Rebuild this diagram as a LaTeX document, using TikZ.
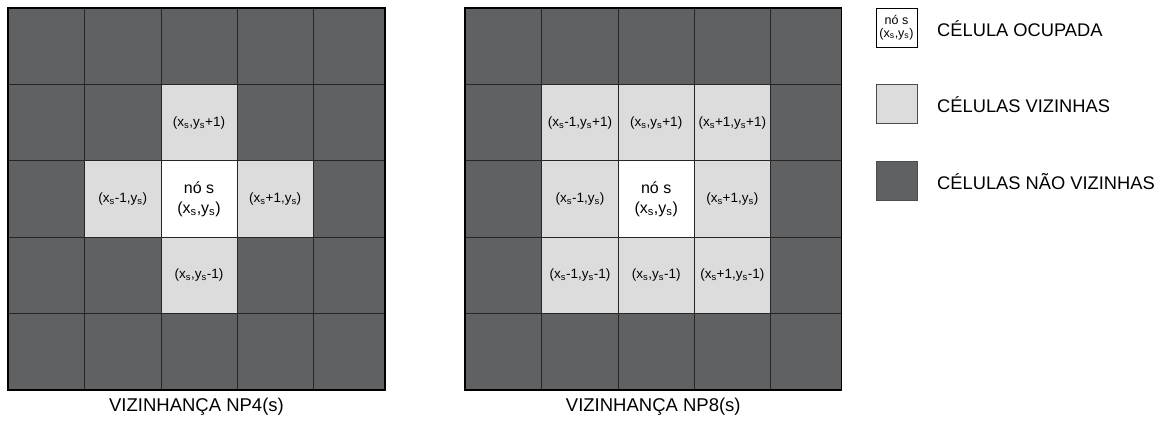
\documentclass[tikz,border=0pt]{standalone}
\usepackage{fontspec}
\setmainfont{Liberation Sans}
\definecolor{darkcell}{HTML}{606163}
\definecolor{lightcell}{HTML}{DCDCDC}
\newcommand{\sbs}{\textsubscript{s}}
\tikzset{
  darkfill/.style={fill=darkcell},
  lightfill/.style={fill=lightcell},
  whitefill/.style={fill=white},
  gridline/.style={draw=black!85, line width=0.9pt},
  border/.style={draw=black, line width=1.1pt},
  cellnb/.style={font=\fontsize{13.5}{15}\selectfont, inner sep=0pt},
  cellc/.style={font=\fontsize{16}{20}\selectfont, align=center, inner sep=0pt},
  legtext/.style={font=\fontsize{18.3}{20}\selectfont, anchor=west, inner sep=0pt},
  captext/.style={font=\fontsize{18.5}{20}\selectfont, inner sep=0pt},
  legbox/.style={draw=black!70, line width=0.8pt, minimum width=41pt, minimum height=39pt, inner sep=0pt}
}
\begin{document}
\begin{tikzpicture}[x=1pt,y=-1pt]
\useasboundingbox (0,0) rectangle (1165,423);
% ---------- Grid 1 (NP4) ----------
\fill[darkcell] (8,8) rectangle (385,390);
\fill[lightcell] (161,84.7) rectangle (237,160.7);
\fill[lightcell] (84.3,160.7) rectangle (161,237.3);
\fill[lightcell] (237,160.7) rectangle (313.3,237.3);
\fill[lightcell] (161,237.3) rectangle (237,313.3);
\fill[white] (161,160.7) rectangle (237,237.3);
\foreach \xx in {84.3,161,237,313.3} \draw[gridline] (\xx,8) -- (\xx,390);
\foreach \yy in {84.7,160.7,237.3,313.3} \draw[gridline] (8,\yy) -- (385,\yy);
\draw[border] (8,8) rectangle (385,390);
\node[cellnb] (a-n) at (199,122.7) {(x\sbs,y\sbs+1)};
\node[cellnb] (a-w) at (122.7,199) {(x\sbs-1,y\sbs)};
\node[cellnb] (a-e) at (275.2,199) {(x\sbs+1,y\sbs)};
\node[cellnb] (a-s) at (199,275.3) {(x\sbs,y\sbs-1)};
\node[cellc] (a-c) at (199,199) {nó s\\(x\sbs,y\sbs)};
\node[captext] (cap1) at (196.5,407) {VIZINHANÇA NP4(s)};
% ---------- Grid 2 (NP8) ----------
\fill[darkcell] (465,8) rectangle (841.7,390);
\fill[lightcell] (541.7,84.7) rectangle (770.7,313.3);
\fill[white] (618.3,160.7) rectangle (694,237.3);
\foreach \xx in {541.7,618.3,694,770.7} \draw[gridline] (\xx,8) -- (\xx,390);
\foreach \yy in {84.7,160.7,237.3,313.3} \draw[gridline] (465,\yy) -- (841.7,\yy);
\draw[border] (465,8) rectangle (841.7,390);
\node[cellnb] (b-nw) at (580,122.7) {(x\sbs-1,y\sbs+1)};
\node[cellnb] (b-n) at (656.2,122.7) {(x\sbs,y\sbs+1)};
\node[cellnb] (b-ne) at (732.3,122.7) {(x\sbs+1,y\sbs+1)};
\node[cellnb] (b-w) at (580,199) {(x\sbs-1,y\sbs)};
\node[cellnb] (b-e) at (732.3,199) {(x\sbs+1,y\sbs)};
\node[cellnb] (b-sw) at (580,275.3) {(x\sbs-1,y\sbs-1)};
\node[cellnb] (b-s) at (656.2,275.3) {(x\sbs,y\sbs-1)};
\node[cellnb] (b-se) at (732.3,275.3) {(x\sbs+1,y\sbs-1)};
\node[cellc] (b-c) at (656.2,199) {nó s\\(x\sbs,y\sbs)};
\node[captext] (cap2) at (653.3,407) {VIZINHANÇA NP8(s)};
% ---------- Legend ----------
\node[legbox, fill=white, draw=black, font=\fontsize{12.5}{12.5}\selectfont, align=center] (l1) at (896.5,27.5) {nó s\\(x\sbs,y\sbs)};
\node[legbox, fill=lightcell] (l2) at (896.5,104) {};
\node[legbox, fill=darkcell] (l3) at (896.5,180.5) {};
\node[legtext] (t1) at (937,29) {CÉLULA OCUPADA};
\node[legtext] (t2) at (937,105) {CÉLULAS VIZINHAS};
\node[legtext] (t3) at (937,181.5) {CÉLULAS NÃO VIZINHAS};
\end{tikzpicture}
\end{document}
